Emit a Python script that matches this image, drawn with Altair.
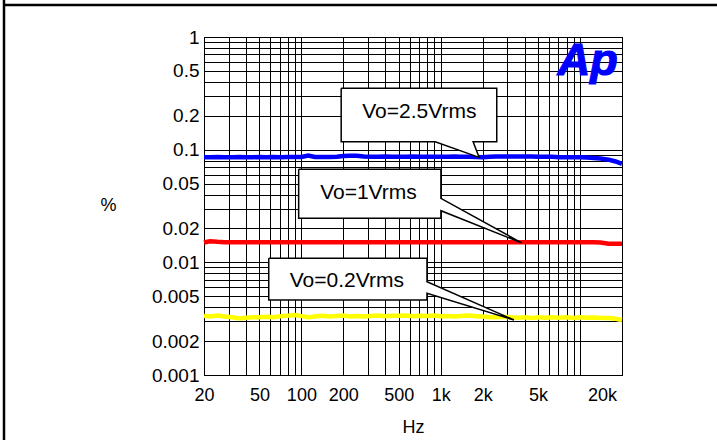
import altair as alt
import pandas as pd

# ---------------- data ----------------
freq = [20, 22, 25, 28, 32, 36, 40, 45, 50, 56, 63, 71, 80, 90,
        100, 112, 125, 140, 160, 180, 200, 224, 250, 280, 315, 355, 400, 450, 500, 560, 630, 710, 800, 900,
        1000, 1120, 1250, 1400, 1600, 1800, 2000, 2240, 2500, 2800, 3150, 3550, 4000, 4500, 5000, 5600, 6300, 7100, 8000, 9000,
        10000, 11200, 12500, 14000, 16000, 18000, 20000]

thd_2v5 = [0.0858, 0.0858, 0.0860, 0.0858, 0.0858, 0.0860, 0.0858, 0.0858, 0.0860, 0.0858, 0.0860, 0.0858, 0.0860, 0.0860,
           0.0862, 0.0888, 0.0862, 0.0860, 0.0862, 0.0865, 0.0880, 0.0885, 0.0882, 0.0868, 0.0866, 0.0866, 0.0868, 0.0866, 0.0866, 0.0866, 0.0868, 0.0866, 0.0866, 0.0866,
           0.0866, 0.0866, 0.0868, 0.0866, 0.0866, 0.0862, 0.0856, 0.0866, 0.0868, 0.0868, 0.0868, 0.0868, 0.0868, 0.0868, 0.0866, 0.0866, 0.0864, 0.0856, 0.0855, 0.0855,
           0.0855, 0.0853, 0.0845, 0.0835, 0.0815, 0.0785, 0.0748]

thd_1v = [0.0150, 0.0154, 0.0152, 0.0151, 0.0151, 0.0151, 0.0151, 0.0151, 0.0151, 0.0151, 0.0151, 0.0151, 0.0151, 0.0151,
          0.0151, 0.0151, 0.0151, 0.0151, 0.0151, 0.0151, 0.0151, 0.0151, 0.0151, 0.0151, 0.0151, 0.0151, 0.0151, 0.0151, 0.0151, 0.0151, 0.0151, 0.0151, 0.0151, 0.0151,
          0.0151, 0.0151, 0.0151, 0.0151, 0.0151, 0.0151, 0.0151, 0.0151, 0.0151, 0.0151, 0.0151, 0.0151, 0.0151, 0.0151, 0.0151, 0.0151, 0.0151, 0.0151, 0.0151, 0.0151,
          0.0151, 0.0151, 0.0151, 0.0150, 0.0146, 0.0146, 0.0146]

thd_0v2 = [0.00336, 0.00330, 0.00338, 0.00330, 0.00325, 0.00318, 0.00322, 0.00326, 0.00325, 0.00328, 0.00326, 0.00333, 0.00336, 0.00340,
           0.00333, 0.00325, 0.00330, 0.00336, 0.00330, 0.00334, 0.00337, 0.00331, 0.00334, 0.00330, 0.00334, 0.00338, 0.00333, 0.00336, 0.00335, 0.00338, 0.00333, 0.00336, 0.00334, 0.00337,
           0.00333, 0.00334, 0.00330, 0.00334, 0.00337, 0.00333, 0.00330, 0.00326, 0.00325, 0.00328, 0.00325, 0.00323, 0.00325, 0.00321, 0.00325, 0.00322, 0.00326, 0.00323, 0.00325, 0.00321,
           0.00325, 0.00322, 0.00324, 0.00321, 0.00320, 0.00316, 0.00308]

series_names = ["2.5Vrms", "1Vrms", "0.2Vrms"]
series_colors = ["#0000FF", "#FF0000", "#FFFF00"]

x_label_vals = [20, 50, 100, 200, 500, 1000, 2000, 5000, 20000]
x_label_text = ["20", "50", "100", "200", "500", "1k", "2k", "5k", "20k"]
y_label_vals = [1, 0.5, 0.2, 0.1, 0.05, 0.02, 0.01, 0.005, 0.002, 0.001]
y_label_text = ["1", "0.5", "0.2", "0.1", "0.05", "0.02", "0.01", "0.005", "0.002", "0.001"]

# callout outlines (data coordinates: Hz, %)
c1_x = [193, 2524, 2524, 1708, 1884, 913, 193, 193]
c1_y = [0.3505, 0.3505, 0.1177, 0.1177, 0.0855, 0.1177, 0.1177, 0.3505]
c2_x = [95.6, 1003, 1003, 3808, 1003, 1003, 95.6, 95.6]
c2_y = [0.0670, 0.0670, 0.0370, 0.0149, 0.02873, 0.02459, 0.02459, 0.0670]
c3_x = [58.3, 797, 797, 3354, 797, 797, 58.3, 58.3]
c3_y = [0.01086, 0.01086, 0.006733, 0.00308, 0.005311, 0.004631, 0.004631, 0.01086]

callout_text = ["Vo=2.5Vrms", "Vo=1Vrms", "Vo=0.2Vrms"]
callout_tx = [702, 303, 212]
callout_ty = [0.2180, 0.0412, 0.00680]

# ---------------- tables ----------------
rows = []
for name, vals in zip(series_names, [thd_2v5, thd_1v, thd_0v2]):
    for f, v in zip(freq, vals):
        rows.append({"series": name, "freq": f, "thd": v})
df = pd.DataFrame(rows)

crows = []
for cid, (xs, ys) in enumerate([(c1_x, c1_y), (c2_x, c2_y), (c3_x, c3_y)]):
    for i, (xv, yv) in enumerate(zip(xs, ys)):
        crows.append({"cid": cid, "ord": i, "freq": xv, "thd": yv})
cdf = pd.DataFrame(crows)

tdf = pd.DataFrame({"label": callout_text, "freq": callout_tx, "thd": callout_ty})
logo_df = pd.DataFrame({"label": ["Ap"], "freq": [11350], "thd": [0.46]})

x_grid = [round(m * 10 ** e, 6) for e in [1, 2, 3] for m in range(1, 10) if m * 10 ** e >= 20] + [10000, 20000]
y_grid = [round(m * 10.0 ** e, 8) for e in [-3, -2, -1] for m in range(1, 10)] + [1]


def label_expr(vals, texts):
    parts = []
    for v, t in zip(vals, texts):
        parts.append(f"abs(datum.value - {v}) < {v * 1e-6} ? '{t}'")
    return " : ".join(parts) + " : ''"


FONT = "Liberation Sans"

x_axis = alt.Axis(values=x_grid, labelExpr=label_expr(x_label_vals, x_label_text), grid=True,
                  gridColor="#000000", gridWidth=1, gridOpacity=1, ticks=False,
                  domainColor="#000000", domainWidth=1, labelFlush=False, labelOverlap=False,
                  labelFontSize=18, labelFont=FONT, labelColor="#000000", labelPadding=11,
                  labelOffset={"condition": {"test": "datum.value >= 15000", "value": -20}, "value": 0},
                  title="Hz", titleFont=FONT, titleFontSize=18, titleFontWeight="normal",
                  titleColor="#000000", titleY=52, titleBaseline="middle")
y_axis = alt.Axis(values=y_grid, labelExpr=label_expr(y_label_vals, y_label_text), grid=True,
                  gridColor="#000000", gridWidth=1, gridOpacity=1, ticks=False,
                  domainColor="#000000", domainWidth=1, labelOverlap=False, labelFlush=False,
                  labelFontSize=19, labelFont=FONT, labelColor="#000000", labelPadding=5,
                  title="%", titleFont=FONT, titleFontSize=18, titleFontWeight="normal",
                  titleColor="#000000", titleAngle=0, titleX=-96, titleY=168,
                  titleAlign="center", titleBaseline="middle")

x_enc = alt.X("freq:Q", scale=alt.Scale(type="log", domain=[20, 20000], nice=False), axis=x_axis)
y_enc = alt.Y("thd:Q", scale=alt.Scale(type="log", domain=[0.001, 1], nice=False), axis=y_axis)

lines = alt.Chart(df).mark_line(strokeWidth=4.5).encode(
    x=x_enc, y=y_enc,
    color=alt.Color("series:N", scale=alt.Scale(domain=series_names, range=series_colors), legend=None),
    detail="series:N",
)

callouts = alt.Chart(cdf).mark_line(fill="#FFFFFF", stroke="#000000", strokeWidth=1.5,
                                    strokeJoin="miter").encode(
    x=x_enc, y=y_enc, detail="cid:N", order="ord:Q"
)

texts = alt.Chart(tdf).mark_text(font=FONT, fontSize=21, color="#000000",
                                 align="center", baseline="middle").encode(
    x=x_enc, y=y_enc, text="label:N"
)

logo = alt.Chart(logo_df).mark_text(font=FONT, fontSize=45, fontWeight="bold", fontStyle="italic",
                                    color="#0000FF", align="center", baseline="alphabetic",
                                    stroke="#0000FF", strokeWidth=1.2).encode(
    x=x_enc, y=y_enc, text="label:N"
)

frame_df = pd.DataFrame({"k": [0]})
frame_left = alt.Chart(frame_df).mark_rule(color="#000000", strokeWidth=2.5).encode(
    x=alt.value(-200), x2=alt.value(-200), y=alt.value(-37), y2=alt.value(403)
)
frame_top = alt.Chart(frame_df).mark_rule(color="#000000", strokeWidth=2.5).encode(
    x=alt.value(-201), x2=alt.value(513), y=alt.value(-32), y2=alt.value(-32)
)

chart = alt.layer(lines, callouts, texts, logo, frame_left, frame_top).properties(
    width=418, height=338,
    autosize=alt.AutoSizeParams(type="none"),
    padding={"left": 204, "top": 37, "right": 95, "bottom": 65},
    background="#FFFFFF",
).configure_view(stroke="#000000", strokeWidth=1)

chart.save("out.html", embed_options={"renderer": "svg", "actions": False})
